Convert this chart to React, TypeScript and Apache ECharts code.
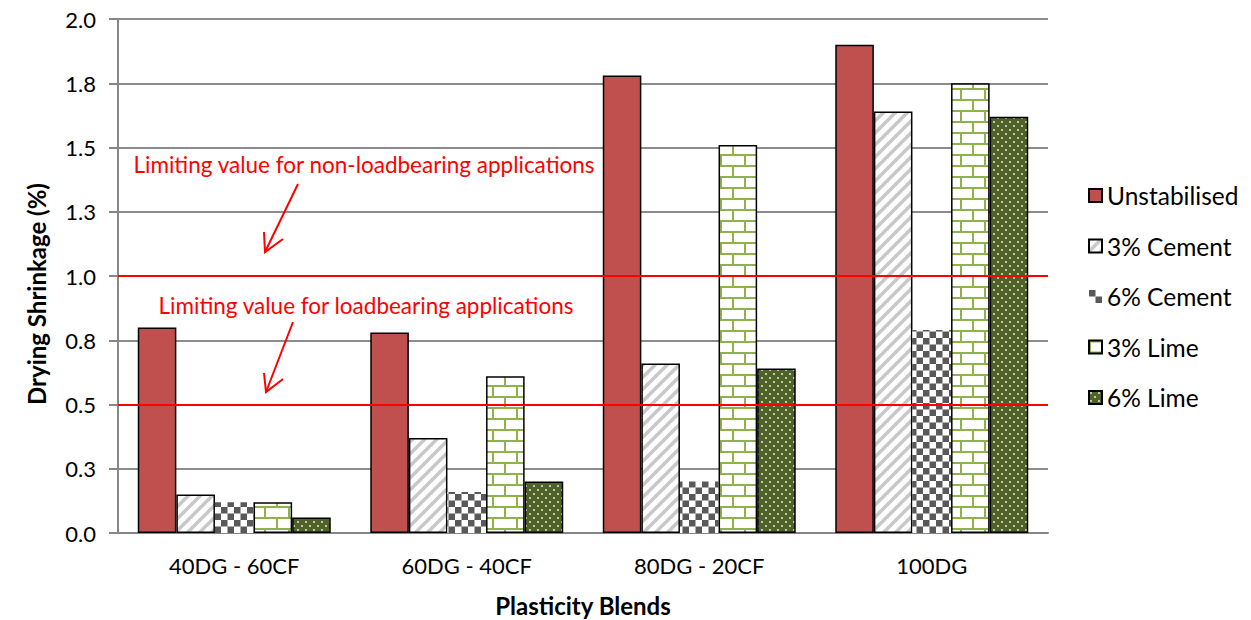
import React, { useEffect, useRef } from "react";
import * as echarts from "echarts";

const categories = ["40DG - 60CF", "60DG - 40CF", "80DG - 20CF", "100DG"];
const seriesNames = ["Unstabilised", "3% Cement", "6% Cement", "3% Lime", "6% Lime"];
const unstabilised = [0.8, 0.78, 1.78, 1.9];
const cement3 = [0.15, 0.37, 0.66, 1.64];
const cement6 = [0.12, 0.16, 0.2, 0.79];
const lime3 = [0.12, 0.61, 1.51, 1.75];
const lime6 = [0.06, 0.2, 0.64, 1.62];
const limitValues = [1.0, 0.5];
const limitLabels = [
  "Limiting value for non-loadbearing applications",
  "Limiting value for loadbearing applications",
];

const FONT = "Lato";

function makeCanvas(w: number, h: number, draw: (ctx: CanvasRenderingContext2D) => void) {
  const c = document.createElement("canvas");
  c.width = w;
  c.height = h;
  const ctx = c.getContext("2d") as CanvasRenderingContext2D;
  draw(ctx);
  return { image: c, repeat: "repeat", imageWidth: w, imageHeight: h };
}

function stripePattern() {
  return makeCanvas(12, 12, (ctx) => {
    ctx.fillStyle = "#ffffff";
    ctx.fillRect(0, 0, 12, 12);
    ctx.strokeStyle = "#c8c8c8";
    ctx.lineWidth = 3.5;
    const segs = [
      [-6, 6, 6, -6],
      [0, 12, 12, 0],
      [6, 18, 18, 6],
    ];
    segs.forEach(([a, b, c, d]) => {
      ctx.beginPath();
      ctx.moveTo(a, b);
      ctx.lineTo(c, d);
      ctx.stroke();
    });
  });
}

function checkerPattern() {
  return makeCanvas(13, 13, (ctx) => {
    ctx.fillStyle = "#ffffff";
    ctx.fillRect(0, 0, 13, 13);
    ctx.fillStyle = "#595959";
    ctx.fillRect(0, 0, 6.5, 6.5);
    ctx.fillRect(6.5, 6.5, 6.5, 6.5);
  });
}

function brickPattern() {
  return makeCanvas(24, 22, (ctx) => {
    ctx.fillStyle = "#ffffff";
    ctx.fillRect(0, 0, 24, 22);
    ctx.fillStyle = "#8fb24a";
    ctx.fillRect(0, 0, 24, 2);
    ctx.fillRect(0, 11, 24, 2);
    ctx.fillRect(0, 0, 2, 11);
    ctx.fillRect(12, 11, 2, 11);
  });
}

function dotPattern() {
  return makeCanvas(8, 8, (ctx) => {
    ctx.fillStyle = "#4f6228";
    ctx.fillRect(0, 0, 8, 8);
    ctx.fillStyle = "rgba(235,240,225,0.9)";
    ctx.beginPath();
    ctx.arc(2, 2, 1.1, 0, Math.PI * 2);
    ctx.fill();
    ctx.beginPath();
    ctx.arc(6, 6, 1.1, 0, Math.PI * 2);
    ctx.fill();
  });
}

export default function App() {
  const ref = useRef<HTMLDivElement>(null);

  useEffect(() => {
    if (!ref.current) return;
    const chart = echarts.init(ref.current, undefined, { renderer: "svg" });

    const values = [unstabilised, cement3, cement6, lime3, lime6];
    const fills: any[] = ["#c0504d", stripePattern(), checkerPattern(), brickPattern(), dotPattern()];
    const borders = [1.5, 1.5, 0, 1.5, 1.5];

    const series: any[] = seriesNames.map((name, i) => ({
      name,
      type: "bar",
      data: values[i],
      barGap: "0%",
      barCategoryGap: "17%",
      itemStyle: {
        color: fills[i],
        borderColor: "#000000",
        borderWidth: borders[i],
      },
    }));

    series[4].markLine = {
      silent: true,
      symbol: "none",
      z: 10,
      label: { show: false },
      lineStyle: { color: "#ff0000", width: 2, type: "solid" },
      data: limitValues.map((v) => ({ yAxis: v })),
    };

    const red = "#ff0000";
    const arrow = (x1: number, y1: number, x2: number, y2: number, a: number[], b: number[]) => [
      { type: "line", shape: { x1, y1, x2, y2 }, style: { stroke: red, lineWidth: 2 }, z: 20 },
      {
        type: "polyline",
        shape: { points: [a, [x2, y2], b] },
        style: { stroke: red, lineWidth: 2, fill: "none" },
        z: 20,
      },
    ];

    chart.setOption({
      animation: false,
      grid: {
        left: 118,
        right: 203,
        top: 19,
        bottom: 87,
        containLabel: false,
        outerBoundsMode: "none",
      },
      legend: {
        orient: "vertical",
        left: 1083,
        top: 178,
        itemWidth: 13,
        itemHeight: 13,
        itemGap: 25.5,
        icon: "rect",
        data: seriesNames,
        textStyle: { fontFamily: FONT, fontSize: 24.5, color: "#000000" },
      },
      xAxis: {
        type: "category",
        data: categories,
        axisLine: { lineStyle: { color: "#868686", width: 2 } },
        axisTick: { show: false },
        axisLabel: { fontFamily: FONT, fontSize: 22, color: "#000000", margin: 21 },
        name: "Plasticity Blends",
        nameLocation: "middle",
        nameGap: 60,
        nameTextStyle: { fontFamily: FONT, fontSize: 24, fontWeight: "bold", color: "#000000" },
      },
      yAxis: {
        type: "value",
        min: 0,
        max: 2,
        interval: 0.25,
        axisLine: { show: true, lineStyle: { color: "#868686", width: 2 } },
        axisTick: { show: true, length: 9, lineStyle: { color: "#868686", width: 2 } },
        splitLine: { lineStyle: { color: "#8c8c8c", width: 2 } },
        axisLabel: {
          fontFamily: FONT,
          fontSize: 22,
          color: "#000000",
          margin: 22,
          formatter: (v: number) => v.toFixed(1),
        },
      },
      graphic: [
        {
          type: "text",
          x: 36,
          y: 294,
          rotation: Math.PI / 2,
          style: {
            text: "Drying Shrinkage (%)",
            fontFamily: FONT,
            fontSize: 24,
            fontWeight: "bold",
            fill: "#000000",
            align: "center",
            verticalAlign: "middle",
          },
        },
        {
          type: "text",
          x: 364,
          y: 164,
          style: {
            text: limitLabels[0],
            fontFamily: FONT,
            fontSize: 22.5,
            fill: red,
            align: "center",
            verticalAlign: "middle",
          },
          z: 20,
        },
        {
          type: "text",
          x: 366,
          y: 305,
          style: {
            text: limitLabels[1],
            fontFamily: FONT,
            fontSize: 22.5,
            fill: red,
            align: "center",
            verticalAlign: "middle",
          },
          z: 20,
        },
        ...arrow(298, 184, 265, 252, [264, 232], [283, 239]),
        ...arrow(293, 322, 266, 392, [264, 373], [283, 379]),
      ],
      series,
    });

    return () => chart.dispose();
  }, []);

  return (
    <div
      ref={ref}
      style={{ position: "fixed", left: 0, top: 0, width: 1251, height: 620, background: "#ffffff" }}
    />
  );
}
